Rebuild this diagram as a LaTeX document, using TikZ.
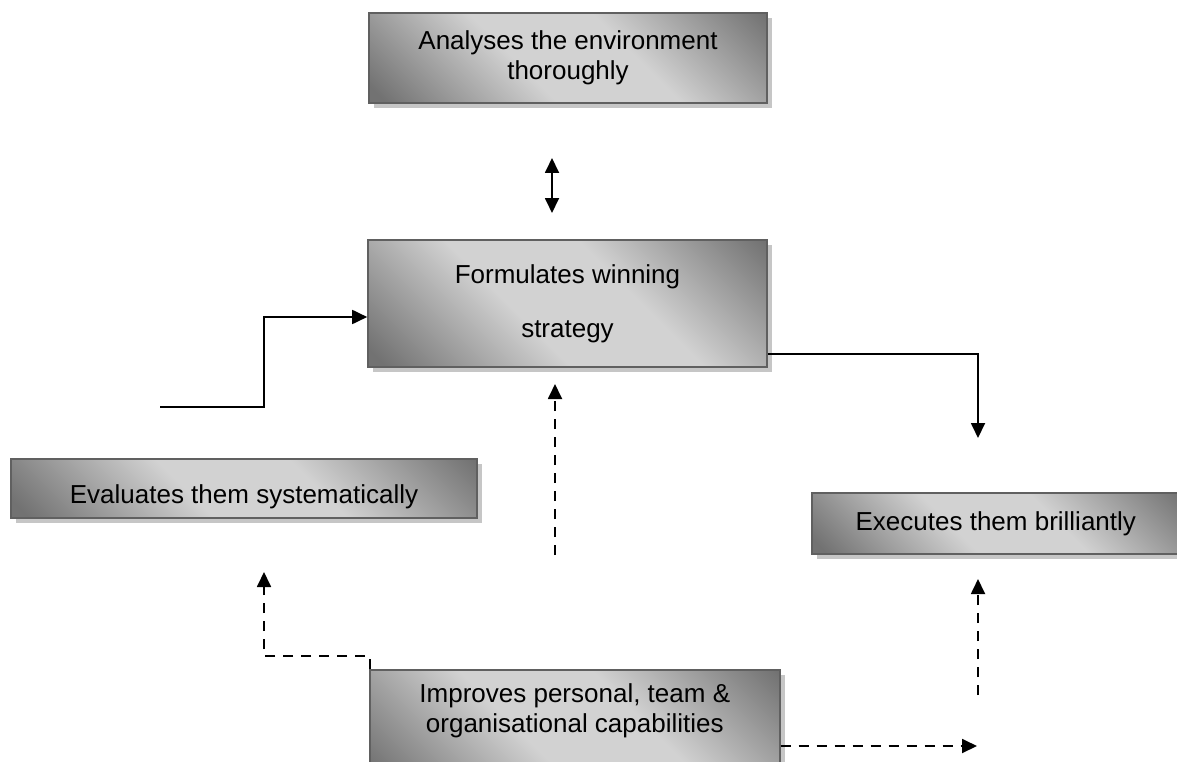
\documentclass[tikz,border=0pt]{standalone}
\usepackage{fontspec}
\setmainfont{Liberation Sans}
\usetikzlibrary{arrows.meta,shadows}
\definecolor{gdark}{HTML}{727272}
\definecolor{glight}{HTML}{D2D2D2}
\definecolor{gedge}{HTML}{606060}
\definecolor{gshadow}{HTML}{C6C6C6}
\pgfdeclareverticalshading{boxshade}{100bp}{color(0bp)=(gdark); color(17bp)=(gdark); color(42bp)=(glight); color(60bp)=(glight); color(85bp)=(gdark); color(100bp)=(gdark)}
\tikzset{
  box/.style={draw=gedge, line width=1.6pt, shading=boxshade, shading angle=-45, align=center, inner sep=0pt,
    general shadow={fill=gshadow, shadow xshift=5pt, shadow yshift=-5pt},
    font=\fontsize{26}{30}\selectfont},
  conn/.style={line width=1.8pt, -{Triangle[length=15pt,width=14pt]}},
  dconn/.style={conn, dash pattern=on 10pt off 8pt},
}
\begin{document}
\begin{tikzpicture}[x=1pt,y=-1pt]
\useasboundingbox (0,0) rectangle (1177,762);
\clip (0,0) rectangle (1177,762);
\node[box, minimum width=398pt, minimum height=90pt] (ana) at (568,58) {Analyses the environment\\thoroughly};
\node[box, minimum width=399pt, minimum height=127pt] (form) at (567.5,303.5) {Formulates winning\\[24pt]strategy};
\node[box, minimum width=466pt, minimum height=59pt] (eval) at (244,488.5) {\raisebox{-8pt}[\height][\depth]{Evaluates them systematically}};
\node[box, minimum width=372pt, minimum height=61pt, anchor=north west] (exec) at (811,492) {\hspace*{-4pt}Executes them brilliantly};
\node[box, anchor=north west] (imp) at (369,669) {\parbox[c][115pt][t]{410pt}{\centering\vspace*{14pt}Improves personal, team \&\\organisational capabilities}};
% double arrow
\coordinate (da1) at (552,158);
\coordinate (da2) at (552,213);
\draw[line width=1.8pt, {Triangle[length=15pt,width=14pt]}-{Triangle[length=15pt,width=14pt]}] (da1) -- (da2);
% solid into form
\coordinate (s1) at (160,407);
\draw[conn] (s1) -- (264,407) |- (form.west |- 0,317);
% solid out of form
\coordinate (s2) at (978,438);
\draw[conn] (form.east |- 0,354) -| (s2);
% dashed up middle
\coordinate (m1) at (555,555);
\coordinate (m2) at (555,384);
\draw[dconn] (m1) -- (m2);
% dashed imp to eval
\coordinate (l2) at (264,572);
\draw[dconn] (370,669) -- (370,656) -| (l2);
% dashed imp right
\coordinate (r1) at (977,746);
\draw[dconn] (imp.east |- 0,746) -- (r1);
% dashed up right
\coordinate (u1) at (978,695);
\coordinate (u2) at (978,579);
\draw[dconn] (u1) -- (u2);
\end{tikzpicture}
\end{document}
